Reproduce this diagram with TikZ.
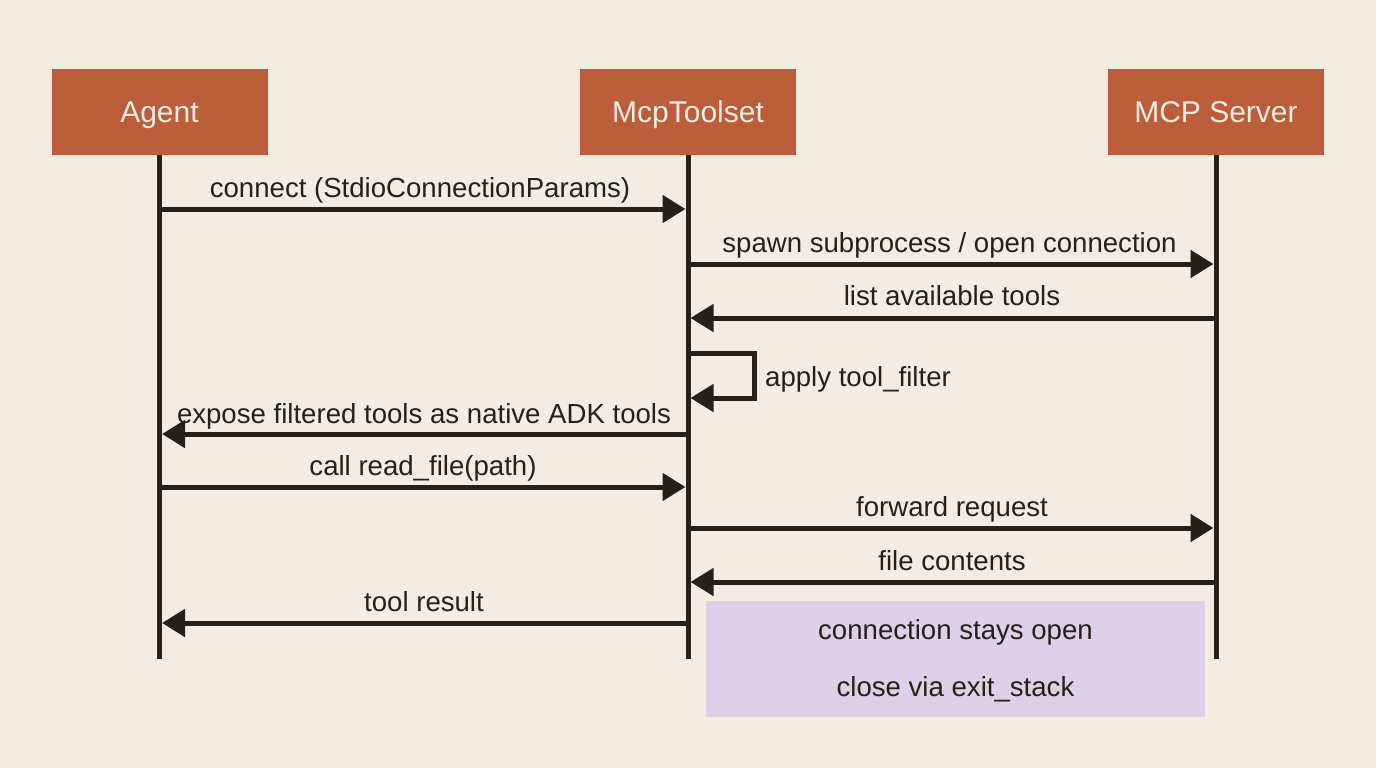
\documentclass[tikz,border=0pt]{standalone}
\usepackage{fontspec}
\setmainfont{Liberation Sans}
\usetikzlibrary{arrows.meta}
\definecolor{paper}{HTML}{F2EDE1}
\definecolor{brick}{HTML}{BC5D3C}
\definecolor{ink}{HTML}{262018}
\definecolor{lilac}{HTML}{DDD1E9}
\tikzset{
  actor/.style={fill=brick,text=paper,font=\fontsize{30pt}{34pt}\selectfont,minimum width=216pt,minimum height=86pt,inner sep=0pt,text height=21pt,text depth=0pt},
  life/.style={draw=ink,line width=5pt},
  msg/.style={draw=ink,line width=5pt,shorten >=2.5pt,-{Triangle[length=23pt,width=27pt,fill=ink]}},
  lbl/.style={text=ink,font=\fontsize{27.6pt}{32pt}\selectfont,inner sep=0pt,text height=20pt,text depth=6pt},
}
\begin{document}
\begin{tikzpicture}[x=1pt,y=-1pt]
  \useasboundingbox[fill=paper] (0,0) rectangle (1376,768);
  % note behind the lifelines
  \node[fill=lilac,minimum width=499pt,minimum height=116pt,inner sep=0pt] (note) at (955.5,658.5) {};
  \node[lbl] (noteA) at (955.5,632.5) {connection stays open};
  \node[lbl] (noteB) at (955.5,689.5) {close via exit\_stack};

  % actors
  \node[actor] (agent) at (159.5,112) {Agent};
  \node[actor] (toolset) at (688,112) {McpToolset};
  \node[actor] (server) at (1216,112) {MCP Server};

  % lifelines
  \foreach \n in {agent,toolset,server} {
    \coordinate (\n End) at (\n.center |- 0,659);
    \draw[life] (\n.south) -- (\n End);
  }

  % messages: name/from/to/y
  \foreach \m/\a/\b/\y in {
    a/agent/toolset/209,
    b/toolset/server/264,
    c/server/toolset/318,
    d/toolset/agent/434,
    e/agent/toolset/487,
    f/toolset/server/528,
    g/server/toolset/582,
    h/toolset/agent/623
  } {
    \coordinate (\m From) at (\a.center |- 0,\y);
    \coordinate (\m To) at (\b.center |- 0,\y);
    \draw[msg] (\m From) -- (\m To);
  }

  % self message
  \coordinate (selfA) at (toolset.center |- 0,353);
  \coordinate (selfB) at (754,353);
  \coordinate (selfC) at (754,398);
  \coordinate (selfD) at (toolset.center |- 0,398);
  \draw[msg] (selfA) -- (selfB) -- (selfC) -- (selfD);

  % labels
  \node[lbl] (la) at (420,190) {connect (StdioConnectionParams)};
  \node[lbl] (lb) at (949.5,245) {spawn subprocess / open connection};
  \node[lbl] (lc) at (952,298) {list available tools};
  \node[lbl,anchor=west] (ls) at (765,379) {apply tool\_filter};
  \node[lbl] (ld) at (424,416) {expose filtered tools as native ADK tools};
  \node[lbl] (le) at (423,468) {call read\_file(path)};
  \node[lbl] (lf) at (952,509) {forward request};
  \node[lbl] (lg) at (952,563) {file contents};
  \node[lbl] (lh) at (424,604) {tool result};
\end{tikzpicture}
\end{document}
